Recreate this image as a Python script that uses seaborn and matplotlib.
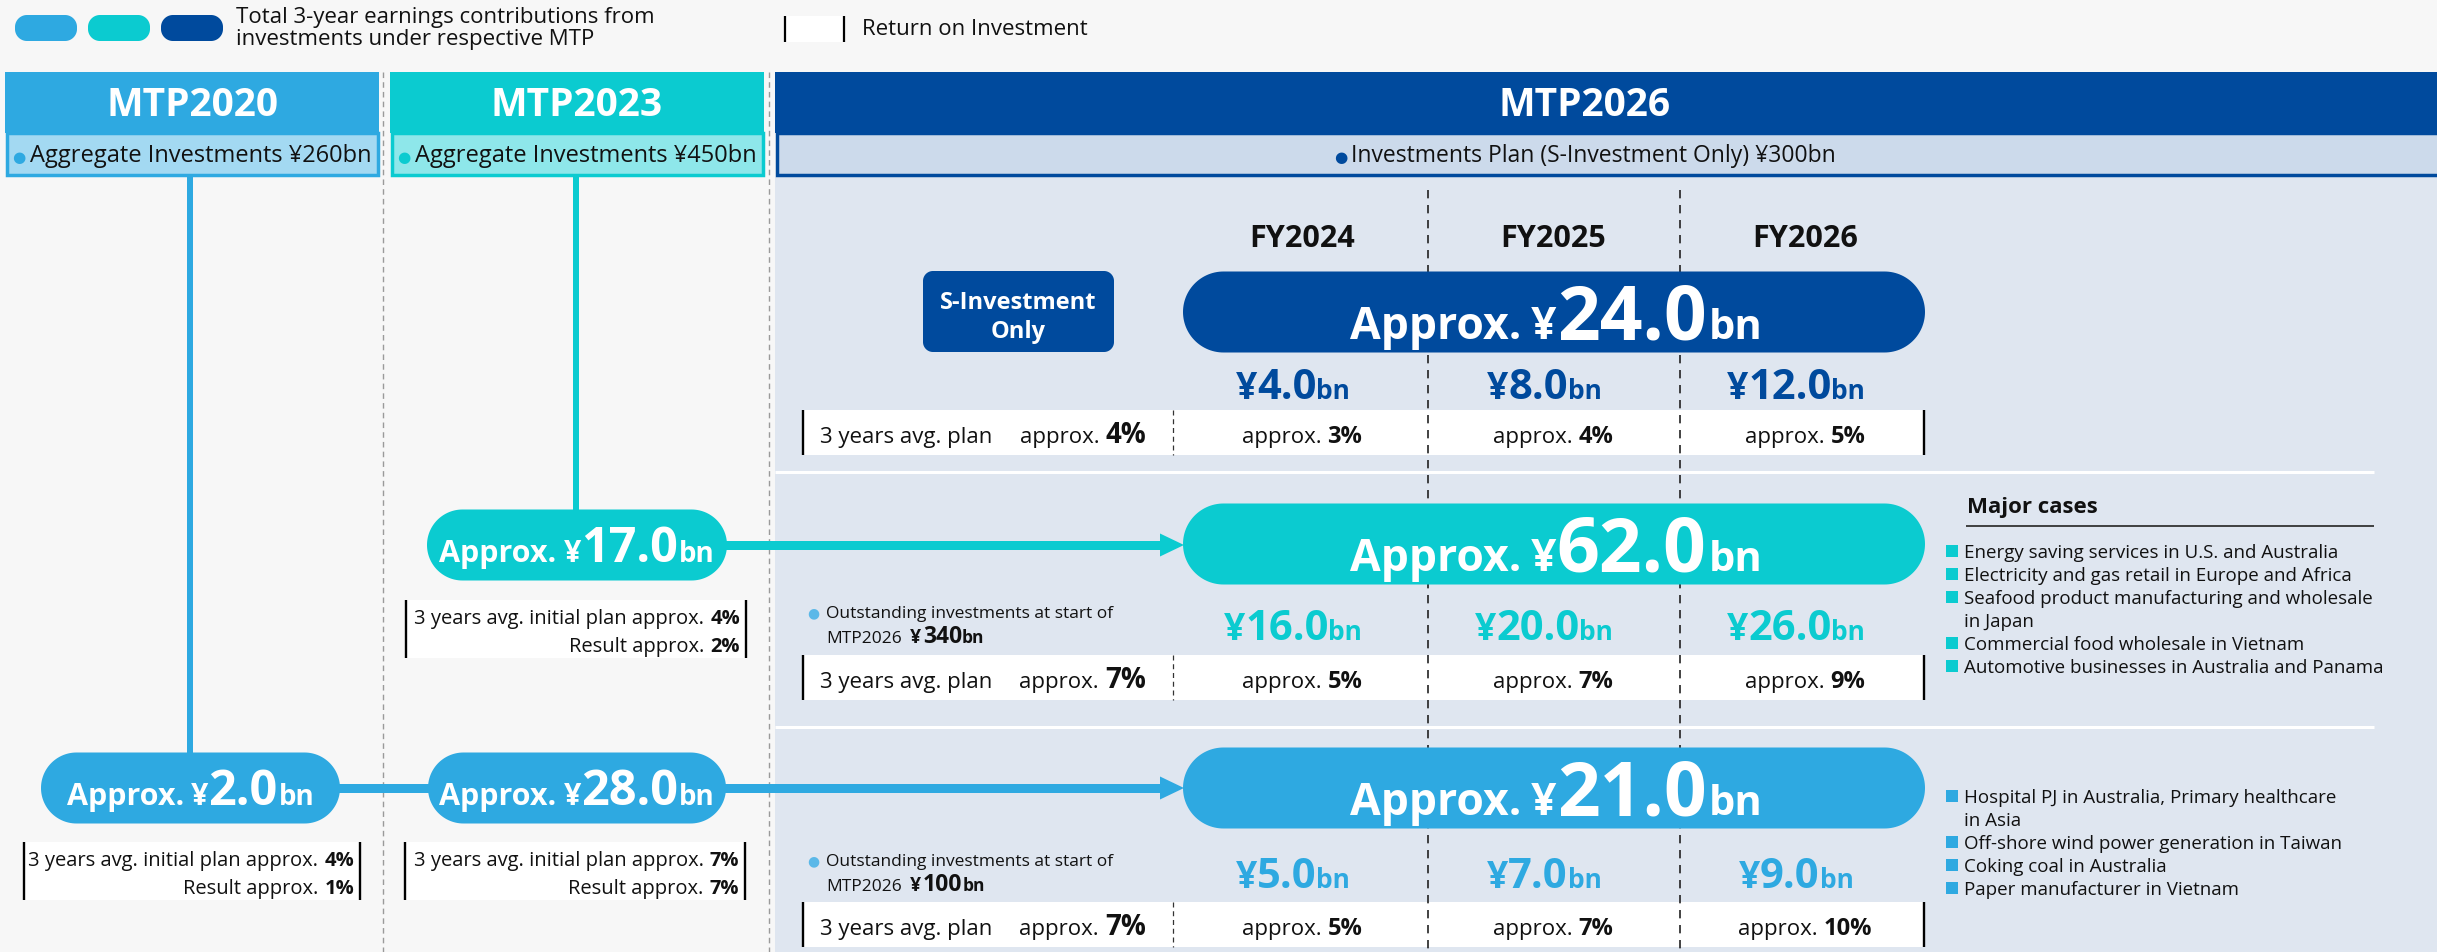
import matplotlib
matplotlib.use('Agg')
import numpy as np
import matplotlib.pyplot as plt
import seaborn as sns
from matplotlib import font_manager as fm
from matplotlib.patches import Rectangle, Polygon

sns.set_theme(style='white')


def pick_family():
    for fam in ['Noto Sans', 'Open Sans', 'Lato', 'Roboto', 'Liberation Sans', 'DejaVu Sans']:
        try:
            reg = fm.findfont(fm.FontProperties(family=fam), fallback_to_default=False)
            bld = fm.findfont(fm.FontProperties(family=fam, weight='bold'), fallback_to_default=False)
        except Exception:
            continue
        if reg != bld:
            return fam
    return 'DejaVu Sans'


FAM = pick_family()
plt.rcParams['font.family'] = [FAM, 'DejaVu Sans']

# ---------------- data ----------------
legend_contrib_lines = ["Total 3-year earnings contributions from", "investments under respective MTP"]
legend_roi_label = "Return on Investment"
mtp_names = ["MTP2020", "MTP2023", "MTP2026"]
mtp_sub_labels = ["Aggregate Investments ¥260bn", "Aggregate Investments ¥450bn",
                  "Investments Plan (S-Investment Only) ¥300bn"]
fiscal_years = ["FY2024", "FY2025", "FY2026"]
# MTP2026 rows: S-Investment, MTP2023 investments, MTP2020 investments
row_totals = [24.0, 62.0, 21.0]
row_yearly = [[4.0, 8.0, 12.0], [16.0, 20.0, 26.0], [5.0, 7.0, 9.0]]
row_avg_roi = [4, 7, 7]
row_yearly_roi = [[3, 4, 5], [5, 7, 9], [5, 7, 10]]
row_outstanding = [None, 340, 100]
# past contributions: MTP2020 inv. in MTP2020, MTP2020 inv. in MTP2023, MTP2023 inv. in MTP2023
past_values = [2.0, 28.0, 17.0]
past_initial_roi = [4, 7, 4]
past_result_roi = [1, 7, 2]
major_cases_2023 = ["Energy saving services in U.S. and Australia",
                    "Electricity and gas retail in Europe and Africa",
                    "Seafood product manufacturing and wholesale\nin Japan",
                    "Commercial food wholesale in Vietnam",
                    "Automotive businesses in Australia and Panama"]
major_cases_2020 = ["Hospital PJ in Australia, Primary healthcare\nin Asia",
                    "Off-shore wind power generation in Taiwan",
                    "Coking coal in Australia",
                    "Paper manufacturer in Vietnam"]

# ---------------- styles ----------------
pal = sns.color_palette(["#2EA9E1", "#0BCBD0", "#004A9D"])
C_BLUE, C_TURQ, C_DARK = [matplotlib.colors.to_hex(c) for c in pal]
C_SUB = ["#A3D9F2", "#8EE7EA", "#CCDAEB"]
BG = "#F7F7F7"
BODY = "#DFE6F0"
W, H = 2437, 952

fig = plt.figure(figsize=(W / 100, H / 100), dpi=100, facecolor=BG)
ax = fig.add_axes([0, 0, 1, 1])
ax.set_xlim(0, W)
ax.set_ylim(H, 0)
ax.axis('off')
R = fig.canvas.get_renderer()


def rich(x, y, pieces, ha='center', zorder=10):
    objs, widths = [], []
    for p in pieces:
        if isinstance(p, (int, float)):
            objs.append(None); widths.append(p); continue
        s, size, weight, color = p
        t = ax.text(0, y, s, fontsize=size, fontweight=weight, color=color,
                    va='baseline', ha='left', zorder=zorder)
        objs.append(t); widths.append(t.get_window_extent(renderer=R).width)
    total = sum(widths)
    cur = x - total / 2 if ha == 'center' else (x - total if ha == 'right' else x)
    for t, w in zip(objs, widths):
        if t is not None:
            t.set_x(cur)
        cur += w
    return total


def rounded(x0, x1, y0, y1, color, r=None, zorder=5):
    h = y1 - y0
    r = h / 2 if r is None else r
    pts = []
    corners = [(x1 - r, y0 + r, -90, 0), (x1 - r, y1 - r, 0, 90),
               (x0 + r, y1 - r, 90, 180), (x0 + r, y0 + r, 180, 270)]
    for cx, cy, a0, a1 in corners:
        a = np.radians(np.linspace(a0, a1, 30))
        pts.extend(zip(cx + r * np.cos(a), cy + r * np.sin(a)))
    ax.add_patch(Polygon(pts, closed=True, fc=color, ec='none', zorder=zorder))


def rect(x0, x1, y0, y1, fc, ec='none', lw=0, zorder=1):
    ax.add_patch(Rectangle((x0, y0), x1 - x0, y1 - y0, fc=fc, ec=ec, lw=lw, zorder=zorder))


def vline(x, y0, y1, color, lw, ls='-', zorder=3):
    ax.plot([x, x], [y0, y1], color=color, lw=lw, ls=ls, zorder=zorder, solid_capstyle='butt')


def hline(y, x0, x1, color, lw, ls='-', zorder=3):
    ax.plot([x0, x1], [y, y], color=color, lw=lw, ls=ls, zorder=zorder, solid_capstyle='butt')


PX = 72 / 100  # points per pixel

# ---------------- legend ----------------
for i, c in enumerate([C_BLUE, C_TURQ, C_DARK]):
    x0 = 15 + i * 73
    rounded(x0, x0 + 62, 15, 41, c, r=12)
for j, line in enumerate(legend_contrib_lines):
    ax.text(236, 23 + j * 22, line, fontsize=16, color='#111', va='baseline', ha='left')
rect(784, 845, 16, 42, 'white', zorder=2)
vline(785, 16, 42, 'black', 1.6)
vline(844, 16, 42, 'black', 1.6)
ax.text(862, 35, legend_roi_label, fontsize=16, color='#111', va='baseline', ha='left')

# ---------------- body background ----------------
rect(775, W, 177, H, BODY, zorder=0)

# ---------------- headers ----------------
hdr_x = [(5, 379), (390, 764), (775, W + 5)]
hdr_cx = [192, 577, 1585]
hdr_sub_fs = [17, 17, 16.5]
hdr_cols = [C_BLUE, C_TURQ, C_DARK]
for k in range(3):
    x0, x1 = hdr_x[k]
    rect(x0, x1, 72, 133, hdr_cols[k], zorder=2)
    rect(x0 + 1.5, x1 - 1.5, 133, 175, C_SUB[k], ec=hdr_cols[k], lw=2.5, zorder=2)
    ax.text(hdr_cx[k], 116, mtp_names[k], fontsize=28, fontweight='bold', color='white',
            va='baseline', ha='center', zorder=6)
    rich(hdr_cx[k], 162, [("●", 11, 'normal', hdr_cols[k]), 4,
                          (mtp_sub_labels[k], hdr_sub_fs[k], 'normal', '#111')])

# gray dashed separators
for x in [383, 769]:
    vline(x, 72, H, '#9a9a9a', 1.0, ls=(0, (4, 3)), zorder=1)

# ---------------- MTP2026 grid ----------------
col_cx = [1302, 1553, 1805]
for x in [1428, 1680]:
    vline(x, 190, H, '#222', 1.2, ls=(0, (5, 4)), zorder=3)
for y in [472, 727]:
    hline(y, 775, 2374, 'white', 3 * PX, zorder=1)

for k, fy in enumerate(fiscal_years):
    ax.text(col_cx[k], 247, fy, fontsize=22, fontweight='bold', color='#111', va='baseline', ha='center')

# S-Investment Only box
rounded(923, 1114, 271, 352, C_DARK, r=10)
ax.text(1018, 309, "S-Investment", fontsize=17, fontweight='bold', color='white', ha='center', va='baseline', zorder=6)
ax.text(1018, 338, "Only", fontsize=17, fontweight='bold', color='white', ha='center', va='baseline', zorder=6)

row_cy = [312, 544, 788]
row_cols = [C_DARK, C_TURQ, C_BLUE]
val_base = [399, 640, 888]
roi_top = [410, 655, 902]
for r in range(3):
    cy = row_cy[r]
    rounded(1183, 1925, cy - 40.5, cy + 40.5, row_cols[r])
    rich(1556, cy + 27, [("Approx.", 32, 'bold', 'white'), 10, ("¥", 32, 'bold', 'white'),
                         (f"{row_totals[r]:.1f}", 54, 'bold', 'white'), 2, ("bn", 30, 'bold', 'white')])
    for k in range(3):
        rich(col_cx[k] - 9, val_base[r], [("¥", 27, 'bold', row_cols[r]),
                                          (f"{row_yearly[r][k]:.1f}", 30, 'bold', row_cols[r]),
                                          ("bn", 19, 'bold', row_cols[r])])
    t0 = roi_top[r]
    rect(802, 1925, t0, t0 + 45, 'white', zorder=2)
    vline(803, t0, t0 + 45, 'black', 1.7, zorder=4)
    vline(1924, t0, t0 + 45, 'black', 1.7, zorder=4)
    vline(1173, t0, t0 + 45, '#333', 0.9, ls=(0, (4, 3)), zorder=4)
    ax.text(820, t0 + 33, "3 years avg. plan", fontsize=16, color='#111', va='baseline', ha='left', zorder=6)
    rich(1146, t0 + 33, [("approx.", 16, 'normal', '#111'), 6, (f"{row_avg_roi[r]}%", 20, 'bold', '#111')], ha='right')
    for k in range(3):
        rich(col_cx[k], t0 + 33, [("approx.", 16, 'normal', '#111'), 6,
                                  (f"{row_yearly_roi[r][k]}%", 17, 'bold', '#111')])
    if row_outstanding[r] is not None:
        b1 = val_base[r] - 22
        ax.text(813, b1 - 1, "●", fontsize=10, color='#5BB8E8', ha='center', va='baseline', zorder=6)
        ax.text(826, b1, "Outstanding investments at start of", fontsize=12.5, color='#111',
                va='baseline', ha='left', zorder=6)
        rich(826, b1 + 25, [("MTP2026", 12.5, 'normal', '#111'), 8, ("¥", 14, 'bold', '#111'), 2,
                            (f"{row_outstanding[r]}", 16.5, 'bold', '#111'), ("bn", 12.5, 'bold', '#111')], ha='left')

# ---------------- past pills and connectors ----------------
vline(190, 175, 760, C_BLUE, 6 * PX, zorder=3)
vline(576, 175, 515, C_TURQ, 6 * PX, zorder=3)
hline(788, 330, 1162, C_BLUE, 9 * PX, zorder=3)
hline(545, 715, 1162, C_TURQ, 9 * PX, zorder=3)
ax.add_patch(Polygon([(1160, 776.5), (1184, 788), (1160, 799.5)], closed=True, fc=C_BLUE, ec='none', zorder=4))
ax.add_patch(Polygon([(1160, 533.5), (1184, 545), (1160, 556.5)], closed=True, fc=C_TURQ, ec='none', zorder=4))

past_x = [(41, 340), (428, 726), (427, 727)]
past_cy = [788, 788, 545]
past_cols = [C_BLUE, C_BLUE, C_TURQ]
box_x = [(23, 361), (404, 746), (405, 747)]
box_y = [842, 842, 600]
for i in range(3):
    x0, x1 = past_x[i]
    cy = past_cy[i]
    rounded(x0, x1, cy - 35.5, cy + 35.5, past_cols[i])
    rich((x0 + x1) / 2, cy + 17, [("Approx.", 22, 'bold', 'white'), 7, ("¥", 22, 'bold', 'white'),
                                  (f"{past_values[i]:.1f}", 35, 'bold', 'white'), 1, ("bn", 20, 'bold', 'white')])
    bx0, bx1 = box_x[i]
    by = box_y[i]
    rect(bx0, bx1, by, by + 58, 'white', zorder=2)
    vline(bx0 + 1, by, by + 58, 'black', 1.7, zorder=4)
    vline(bx1 - 1, by, by + 58, 'black', 1.7, zorder=4)
    rich(bx1 - 7, by + 24, [("3 years avg. initial plan approx.", 14.5, 'normal', '#111'), 6,
                            (f"{past_initial_roi[i]}%", 14.5, 'bold', '#111')], ha='right')
    rich(bx1 - 7, by + 52, [("Result approx.", 14.5, 'normal', '#111'), 6,
                            (f"{past_result_roi[i]}%", 14.5, 'bold', '#111')], ha='right')

# ---------------- major cases ----------------
ax.text(1967, 513, "Major cases", fontsize=16, fontweight='bold', color='#111', va='baseline', ha='left')
hline(526, 1966, 2374, '#333', 1.3)


def case_list(items, base, color):
    y = base
    for it in items:
        ax.add_patch(Rectangle((1946, y - 13), 12, 12, fc=color, ec='none', zorder=5))
        for ln in it.split("\n"):
            ax.text(1964, y, ln, fontsize=13.5, color='#111', va='baseline', ha='left', zorder=6)
            y += 23


case_list(major_cases_2023, 558, C_TURQ)
case_list(major_cases_2020, 803, C_BLUE)

fig.savefig('out.png', dpi=100, facecolor=BG)
